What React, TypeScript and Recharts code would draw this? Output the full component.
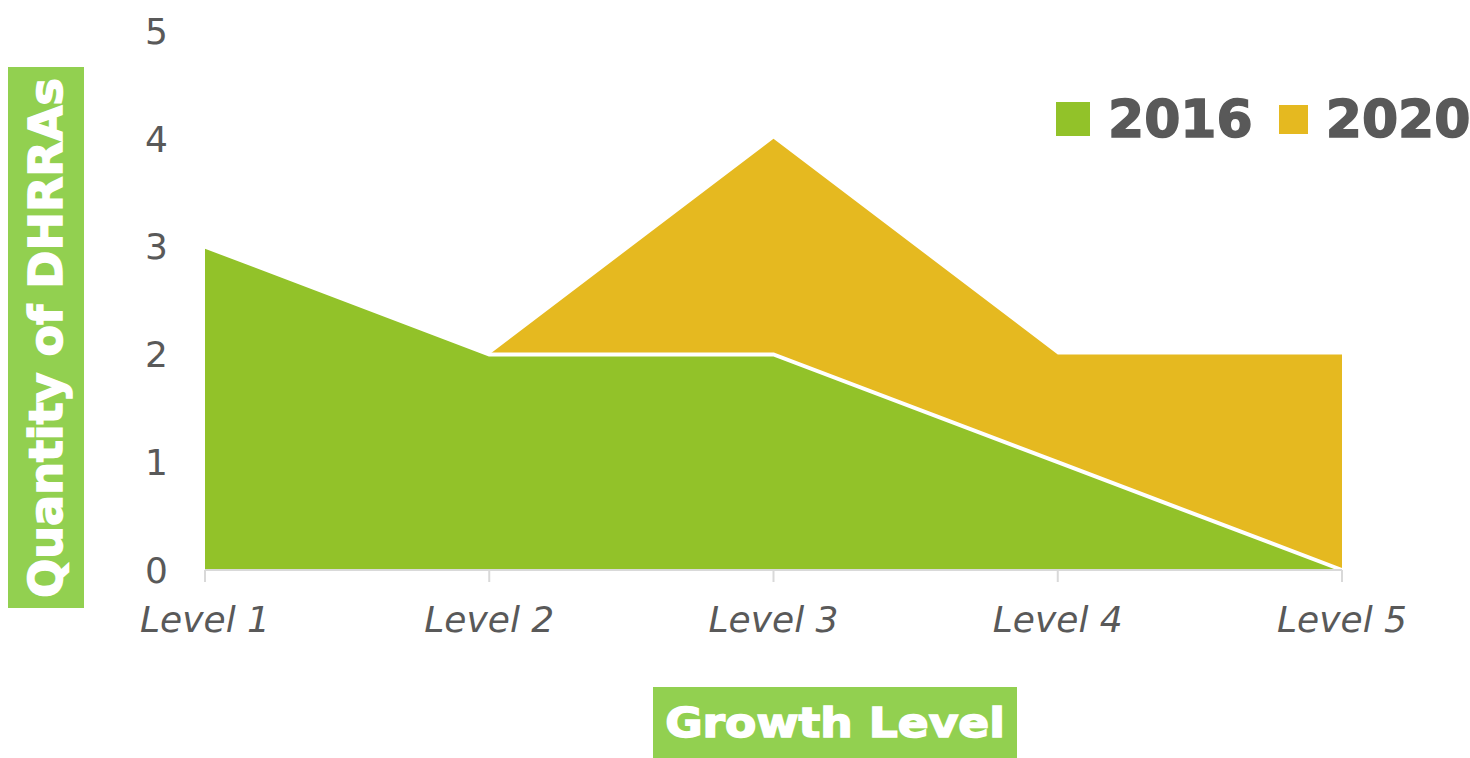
import { Area, AreaChart, Legend, XAxis, YAxis } from "recharts";

const LEVELS = ["Level 1", "Level 2", "Level 3", "Level 4", "Level 5"];
const VALUES_2016 = [3, 2, 2, 1, 0];
const VALUES_2020 = [null, 2, 4, 2, 2];
const Y_TICKS = [0, 1, 2, 3, 4, 5];

const GREEN = "#92C229";
const GOLD = "#E5B920";
const TITLE_BG = "#92D050";
const TEXT = "#595959";

const data = LEVELS.map((level, i) => ({
  level,
  y2016: VALUES_2016[i],
  y2020: VALUES_2020[i]
}));

function LegendBox() {
  const item = (color: string, size: number, label: string, gap: number) => (
    <div style={{ display: "flex", alignItems: "center", marginRight: gap }}>
      <div style={{ width: size, height: size, background: color, marginRight: 18 }} />
      <span
        style={{
          fontFamily: "DejaVu Sans",
          fontWeight: 700,
          fontSize: 52,
          lineHeight: 1,
          color: TEXT,
          WebkitTextStroke: `1.5px ${TEXT}`
        }}
      >
        {label}
      </span>
    </div>
  );
  return (
    <div style={{ display: "flex", alignItems: "center" }}>
      {item(GREEN, 34, "2016", 26)}
      {item(GOLD, 29, "2020", 0)}
    </div>
  );
}

export default function App() {
  return (
    <div style={{ position: "absolute", left: 0, top: 0, width: 1470, height: 758, background: "#fff" }}>
      <AreaChart
        width={1470}
        height={758}
        data={data}
        margin={{ top: 31, right: 128, bottom: 0, left: 0 }}
      >
        <XAxis
          dataKey="level"
          height={188}
          axisLine={{ stroke: "#D9D9D9", strokeWidth: 2 }}
          tickLine={{ stroke: "#D9D9D9", strokeWidth: 2 }}
          tickSize={12}
          tickMargin={24}
          tick={{ fill: TEXT, fontSize: 36, fontFamily: "DejaVu Sans", fontStyle: "italic" }}
          interval={0}
        />
        <YAxis
          width={205}
          domain={[0, 5]}
          ticks={Y_TICKS}
          axisLine={false}
          tickLine={false}
          tickSize={0}
          tickMargin={37}
          tick={{ fill: TEXT, fontSize: 36, fontFamily: "DejaVu Sans" }}
        />
        <Legend
          layout="horizontal"
          verticalAlign="middle"
          align="center"
          content={() => <LegendBox />}
          wrapperStyle={{ left: 1056, top: 93, width: "auto" }}
        />
        <Area
          dataKey="y2020"
          name="2020"
          type="linear"
          fill={GOLD}
          fillOpacity={1}
          stroke="none"
          isAnimationActive={false}
        />
        <Area
          dataKey="y2016"
          name="2016"
          type="linear"
          fill={GREEN}
          fillOpacity={1}
          stroke="#fff"
          strokeWidth={4}
          isAnimationActive={false}
        />
      </AreaChart>

      <div
        style={{
          position: "absolute",
          left: 8,
          top: 67,
          width: 76,
          height: 541,
          background: TITLE_BG,
          display: "flex",
          alignItems: "center",
          justifyContent: "center",
          overflow: "hidden"
        }}
      >
        <span
          style={{
            transform: "rotate(-90deg)",
            whiteSpace: "nowrap",
            color: "#fff",
            fontFamily: "DejaVu Sans",
            fontWeight: 700,
            fontSize: 46,
            lineHeight: 1,
            WebkitTextStroke: "1.5px #fff"
          }}
        >
          Quantity of DHRRAs
        </span>
      </div>

      <div
        style={{
          position: "absolute",
          left: 653,
          top: 687,
          width: 364,
          height: 71,
          background: TITLE_BG,
          display: "flex",
          alignItems: "center",
          justifyContent: "center"
        }}
      >
        <span
          style={{
            color: "#fff",
            fontFamily: "DejaVu Sans",
            fontWeight: 700,
            fontSize: 40,
            lineHeight: 1,
            whiteSpace: "nowrap",
            display: "inline-block",
            transform: "scaleX(1.14)",
            WebkitTextStroke: "1.5px #fff"
          }}
        >
          Growth Level
        </span>
      </div>
    </div>
  );
}
